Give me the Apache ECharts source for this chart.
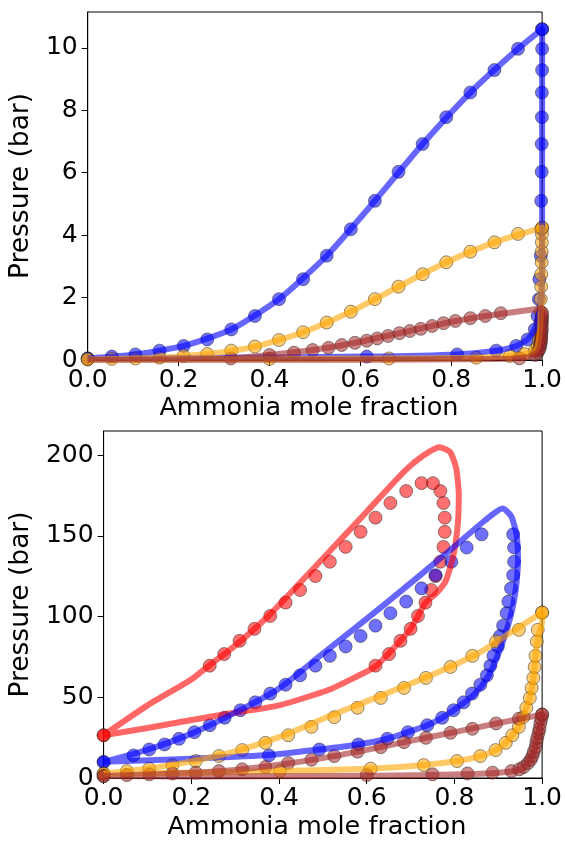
<!DOCTYPE html>
<html>
<head>
<meta charset="utf-8">
<script src="https://cdn.jsdelivr.net/npm/echarts@6/dist/echarts.min.js"></script>
<style>
  html, body { margin: 0; padding: 0; background: #fff; }
  #chart { width: 565px; height: 841px; }
</style>
</head>
<body>
<div id="chart"></div>
<script>
// ---- top panel (low pressure) ----
var xGrid19 = [0, 0.053, 0.105, 0.158, 0.211, 0.263, 0.316, 0.368, 0.421, 0.474, 0.526, 0.579, 0.632, 0.684, 0.737, 0.789, 0.842, 0.895, 0.947, 1.0];

var topBlueP = [0.05, 0.11, 0.18, 0.30, 0.45, 0.66, 0.98, 1.41, 1.95, 2.59, 3.34, 4.19, 5.10, 6.03, 6.92, 7.78, 8.57, 9.29, 9.97, 10.60];
var topBlueBubX = xGrid19;
var topBlueDewX = [0, 0.614, 0.813, 0.899, 0.943, 0.968, 0.984, 0.99, 0.993, 0.994, 0.997, 0.998, 0.998, 0.999, 0.999, 0.9995, 0.9995, 1, 1, 1];
var topBlueLineX = [0, 0.105, 0.211, 0.316, 0.421, 0.526, 0.632, 0.737, 0.842, 0.947, 1.0, 1.0, 1.0, 0.998, 0.993, 0.984, 0.968, 0.943, 0.899, 0.813, 0.614, 0.3, 0];
var topBlueLineP = [0.05, 0.18, 0.45, 0.98, 1.95, 3.34, 5.10, 6.92, 8.57, 9.97, 10.6, 6.0, 3.0, 2.0, 1.5, 1.0, 0.66, 0.45, 0.30, 0.18, 0.11, 0.07, 0.05];

var topOrangeP = [0.02, 0.035, 0.05, 0.075, 0.13, 0.19, 0.30, 0.43, 0.64, 0.89, 1.20, 1.55, 1.95, 2.35, 2.75, 3.13, 3.47, 3.77, 4.04, 4.24];
var topOrangeBubX = xGrid19;
var topOrangeDewX = [0, 0.4, 0.663, 0.855, 0.929, 0.961, 0.984, 0.99, 0.993, 0.995, 0.996, 0.997, 0.997, 0.998, 0.998, 0.999, 0.999, 0.9995, 0.9995, 1.0];
var topOrangeLineX = [0, 0.158, 0.263, 0.368, 0.474, 0.579, 0.684, 0.789, 0.895, 1.0, 1.0, 0.997, 0.995, 0.99, 0.984, 0.961, 0.929, 0.855, 0.663, 0.3, 0];
var topOrangeLineP = [0.02, 0.075, 0.19, 0.43, 0.89, 1.55, 2.35, 3.13, 3.77, 4.24, 3.0, 1.5, 0.89, 0.43, 0.30, 0.19, 0.13, 0.075, 0.05, 0.03, 0.02];

var topBrownP = [0.05, 0.16, 0.235, 0.32, 0.39, 0.48, 0.55, 0.62, 0.69, 0.77, 0.86, 0.93, 1.0, 1.09, 1.18, 1.25, 1.34, 1.41, 1.50];
var topBrownBubX = [0.315, 0.4, 0.454, 0.495, 0.53, 0.559, 0.588, 0.614, 0.637, 0.661, 0.686, 0.709, 0.733, 0.758, 0.783, 0.809, 0.842, 0.875, 0.909];
var topBrownDewX = [0.95, 0.985, 0.99, 0.993, 0.995, 0.996, 0.997, 0.997, 0.998, 0.998, 0.998, 0.999, 0.999, 0.999, 0.999, 0.9995, 0.9995, 0.9995, 1.0];
var topBrownLineX = [0, 0.2, 0.315, 0.4, 0.495, 0.588, 0.686, 0.783, 0.875, 1.0, 1.0, 0.997, 0.99, 0.97, 0.9, 0.6, 0];
var topBrownLineP = [0.005, 0.02, 0.05, 0.16, 0.32, 0.55, 0.86, 1.17, 1.41, 1.66, 1.0, 0.55, 0.25, 0.1, 0.03, 0.01, 0.005];

// ---- bottom panel (high pressure) ----
var botRedP = [26.5, 69.6, 76.8, 85, 92.4, 100.4, 108.7, 116.5, 125.1, 134, 143.2, 152.5, 161.3, 170.4, 177.8, 182.7];
var botRedBubX = [0, 0.242, 0.275, 0.31, 0.344, 0.38, 0.415, 0.448, 0.483, 0.516, 0.552, 0.586, 0.62, 0.654, 0.69, 0.725];
var botRedDewX = [0, 0.62, 0.651, 0.677, 0.7, 0.717, 0.734, 0.747, 0.757, 0.768, 0.775, 0.778, 0.778, 0.775, 0.768, 0.751];
var botRedLineX = [0, 0.1, 0.2, 0.242, 0.3, 0.378, 0.45, 0.514, 0.6, 0.688, 0.73, 0.766, 0.79, 0.804, 0.81, 0.807, 0.797, 0.78, 0.757, 0.734, 0.717, 0.7, 0.677, 0.651, 0.62, 0.567, 0.514, 0.4, 0.25, 0.1, 0];
var botRedLineP = [26.5, 45, 61, 70, 82, 101, 121.5, 140, 165, 190.6, 200, 205, 202, 192, 175, 155, 137, 122, 114, 108.7, 100.4, 92.4, 85, 77.4, 69.1, 61.5, 54.7, 45, 38.3, 31, 26.5];

var botBlueP = [9.9, 14, 17.7, 20.8, 24.3, 28.4, 32.7, 37.3, 42, 46.9, 52.3, 57.8, 63.6, 69.6, 75.7, 81.5, 88, 94.4, 102.1, 109.3, 117.5, 125.7, 134, 142.8, 151];
var botBlueBubX = [0, 0.068, 0.104, 0.139, 0.172, 0.207, 0.242, 0.276, 0.312, 0.346, 0.38, 0.415, 0.448, 0.483, 0.516, 0.552, 0.586, 0.62, 0.654, 0.69, 0.725, 0.757, 0.793, 0.828, 0.862];
var botBlueDewX = [0, 0.377, 0.492, 0.581, 0.647, 0.694, 0.738, 0.772, 0.798, 0.821, 0.84, 0.859, 0.874, 0.882, 0.889, 0.899, 0.904, 0.911, 0.919, 0.923, 0.929, 0.934, 0.936, 0.936, 0.934];
var botBlueLineX = [0, 0.1, 0.2, 0.3, 0.4, 0.492, 0.643, 0.794, 0.87, 0.91, 0.93, 0.942, 0.945, 0.942, 0.936, 0.926, 0.912, 0.896, 0.879, 0.862, 0.842, 0.821, 0.798, 0.772, 0.738, 0.694, 0.647, 0.581, 0.492, 0.377, 0.2, 0];
var botBlueLineP = [10, 17.5, 27.5, 40.5, 55.5, 75.3, 108, 142, 159.7, 167, 162, 150, 135, 122, 110, 98, 86, 74, 64, 57, 51, 46.5, 42, 37.3, 32.7, 28.4, 24.3, 20.8, 17.7, 14.2, 12, 10];

var botOrangeP = [2.7, 4.3, 5.8, 8.0, 10.5, 13.6, 17.3, 21.8, 26.5, 31.7, 37.7, 43.5, 49.6, 55.8, 62, 68.8, 75.7, 84.6, 91.8, 102.5];
var botOrangeBubX = [0, 0.053, 0.104, 0.157, 0.21, 0.263, 0.316, 0.369, 0.421, 0.474, 0.526, 0.579, 0.632, 0.685, 0.735, 0.791, 0.841, 0.895, 0.947, 1.0];
var botOrangeDewX = [0, 0.402, 0.609, 0.73, 0.806, 0.859, 0.894, 0.917, 0.932, 0.947, 0.957, 0.964, 0.972, 0.976, 0.98, 0.983, 0.985, 0.988, 0.99, 1.0];
var botOrangeLineX = [0, 0.1, 0.2, 0.3, 0.4, 0.514, 0.6, 0.741, 0.855, 0.938, 1, 1, 0.99, 0.985, 0.98, 0.972, 0.964, 0.957, 0.947, 0.932, 0.917, 0.894, 0.859, 0.806, 0.73, 0.609, 0.402, 0.2, 0];
var botOrangeLineP = [2.7, 5.8, 10.3, 16.5, 25.3, 38.3, 47.5, 63, 77.4, 91.8, 102.5, 97, 86, 75.7, 62, 49.6, 43.5, 37.7, 31.7, 26.5, 21.8, 17.3, 13.6, 10.5, 8, 5.8, 4.3, 3.3, 2.7];

var botBrownP = [1.2, 1.8, 2.3, 2.8, 3.3, 4.3, 5.4, 6.8, 9.3, 11.3, 13.6, 16.3, 19.1, 22.2, 24.9, 28, 30.5, 33.8, 36.7, 39.3];
var botBrownBubX = botOrangeBubX;
var botBrownDewX = [0, 0.6, 0.75, 0.83, 0.887, 0.93, 0.948, 0.958, 0.968, 0.974, 0.978, 0.981, 0.985, 0.987, 0.989, 0.992, 0.994, 0.996, 0.998, 1.0];
var botBrownLineX = [0, 0.2, 0.3, 0.4, 0.5, 0.6, 0.7, 0.8, 0.9, 1, 1, 0.994, 0.989, 0.981, 0.968, 0.948, 0.9, 0.825, 0.72, 0.5, 0.2, 0];
var botBrownLineP = [1.2, 3.2, 5, 8.2, 12.3, 17.4, 23, 28.4, 34, 39.3, 37, 31, 25, 15.7, 9.1, 4.9, 3.3, 2.3, 1.7, 1.2, 1.0, 1.2];

var topTicks = [0, 2, 4, 6, 8, 10];
var botTicks = [0, 50, 100, 150, 200];

var BLUE = 'rgba(0,0,255,0.6)';
var ORANGE = 'rgba(255,165,0,0.6)';
var BROWN = 'rgba(165,42,42,0.6)';
var RED = 'rgba(255,0,0,0.6)';
var FONT = 'DejaVu Sans';

function pairs(xs, ps) {
  return xs.map(function (x, i) { return [x, ps[i]]; });
}

function curve(idx, xs, ps, color) {
  return {
    type: 'line', xAxisIndex: idx, yAxisIndex: idx,
    data: pairs(xs, ps), smooth: 0.2, showSymbol: false, symbol: 'none',
    lineStyle: { color: color, width: 6, join: 'round' },
    silent: true, animation: false
  };
}

function dots(idx, xs, ps, color) {
  return {
    type: 'scatter', xAxisIndex: idx, yAxisIndex: idx,
    data: pairs(xs, ps), symbolSize: 13,
    itemStyle: { color: color.replace('0.6)', '0.7)'), borderColor: 'rgba(30,30,30,0.6)', borderWidth: 1 },
    silent: true, animation: false
  };
}

function xAx(idx, gap) {
  return {
    type: 'value', gridIndex: idx, min: 0, max: 1, interval: 0.2,
    name: 'Ammonia mole fraction', nameLocation: 'middle', nameGap: gap,
    nameTextStyle: { fontFamily: FONT, fontSize: 25.5, color: '#000', padding: [0, 12, 0, 0] },
    axisLine: { lineStyle: { color: '#000', width: 1 } },
    axisTick: { length: 6, lineStyle: { color: '#000' } },
    axisLabel: { fontFamily: FONT, fontSize: 25, color: '#000', margin: 8,
      formatter: function (v) { return v.toFixed(1); } },
    splitLine: { show: false }
  };
}

function yAx(idx, max, step, ticks, gap) {
  return {
    type: 'value', gridIndex: idx, min: 0, max: max, interval: step,
    name: 'Pressure (bar)', nameLocation: 'middle', nameGap: gap, nameRotate: 90,
    nameTextStyle: { fontFamily: FONT, fontSize: 26.5, color: '#000' },
    axisLine: { lineStyle: { color: '#000', width: 1 } },
    axisTick: { length: 6, lineStyle: { color: '#000' } },
    axisLabel: { fontFamily: FONT, fontSize: 25, color: '#000', margin: 10, showMaxLabel: false,
      formatter: function (v) { return ticks.indexOf(v) >= 0 ? String(v) : ''; } },
    splitLine: { show: false }
  };
}

var chart = echarts.init(document.getElementById('chart'), null, { renderer: 'canvas' });
chart.setOption({
  animation: false,
  backgroundColor: '#fff',
  grid: [
    { left: 87, top: 12, width: 457, height: 348, show: true, borderColor: '#000', borderWidth: 1 },
    { left: 103, top: 431, width: 441, height: 348, show: true, borderColor: '#000', borderWidth: 1 }
  ],
  xAxis: [xAx(0, 35), xAx(1, 36)],
  yAxis: [yAx(0, 11.15, 2, topTicks, 43), yAx(1, 215, 50, botTicks, 59)],
  series: [
    curve(0, topBlueLineX, topBlueLineP, BLUE),
    dots(0, topBlueBubX, topBlueP, BLUE),
    dots(0, topBlueDewX, topBlueP, BLUE),
    curve(0, topOrangeLineX, topOrangeLineP, ORANGE),
    dots(0, topOrangeBubX, topOrangeP, ORANGE),
    dots(0, topOrangeDewX, topOrangeP, ORANGE),
    curve(0, topBrownLineX, topBrownLineP, BROWN),
    dots(0, topBrownBubX, topBrownP, BROWN),
    dots(0, topBrownDewX, topBrownP, BROWN),

    curve(1, botRedLineX, botRedLineP, RED),
    dots(1, botRedBubX, botRedP, RED),
    dots(1, botRedDewX, botRedP, RED),
    curve(1, botBlueLineX, botBlueLineP, BLUE),
    dots(1, botBlueBubX, botBlueP, BLUE),
    dots(1, botBlueDewX, botBlueP, BLUE),
    curve(1, botOrangeLineX, botOrangeLineP, ORANGE),
    dots(1, botOrangeBubX, botOrangeP, ORANGE),
    dots(1, botOrangeDewX, botOrangeP, ORANGE),
    curve(1, botBrownLineX, botBrownLineP, BROWN),
    dots(1, botBrownBubX, botBrownP, BROWN),
    dots(1, botBrownDewX, botBrownP, BROWN)
  ]
});
</script>
</body>
</html>
